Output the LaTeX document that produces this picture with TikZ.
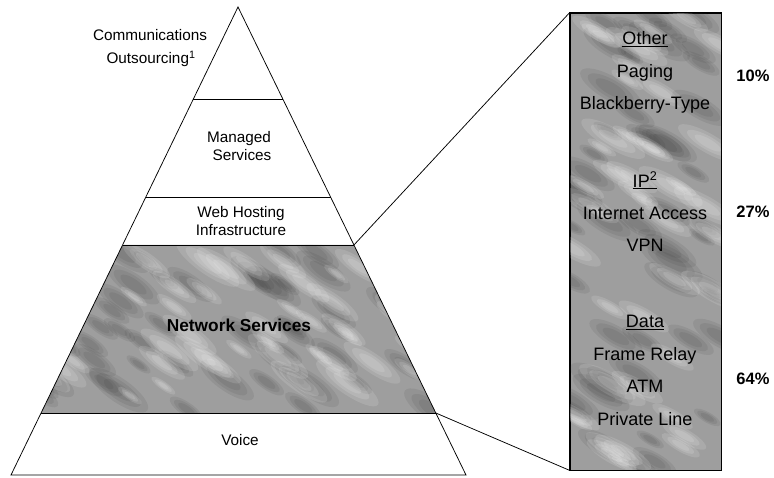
\documentclass[tikz,border=0pt]{standalone}
\usepackage{fontspec}
\setmainfont{Liberation Sans}
\usetikzlibrary{calc}
\begin{document}
\begin{tikzpicture}[x=1pt,y=-1pt,
  lbl/.style={inner sep=0pt, text height=11pt, text depth=0pt, font=\fontsize{15.3}{18}\selectfont},
  blbl/.style={inner sep=0pt, text height=12.5pt, text depth=0pt, font=\fontsize{18}{21}\selectfont},
  boldlbl/.style={inner sep=0pt, text height=12pt, text depth=0pt, font=\fontsize{17.3}{20}\selectfont\bfseries},
  pctlbl/.style={inner sep=0pt, text height=11.5pt, text depth=0pt, font=\fontsize{16.5}{20}\selectfont\bfseries},
  edge/.style={draw=black, line width=0.75pt},
  marble/.style={fill=black!38},
  blobdark/.style={fill=black!80, opacity=0.10},
  bloblight/.style={fill=white, opacity=0.13}]
\useasboundingbox (0,0) rectangle (774,477);
% pyramid frame
\coordinate (apex) at (238,7);
\coordinate (bl) at (11,475);
\coordinate (br) at (466,475);
\coordinate (l1) at ($(apex)!0.1966!(bl)$);
\coordinate (r1) at ($(apex)!0.1966!(br)$);
\coordinate (l2) at ($(apex)!0.4060!(bl)$);
\coordinate (r2) at ($(apex)!0.4060!(br)$);
\coordinate (l3) at ($(apex)!0.5085!(bl)$);
\coordinate (r3) at ($(apex)!0.5085!(br)$);
\coordinate (l4) at ($(apex)!0.8675!(bl)$);
\coordinate (r4) at ($(apex)!0.8675!(br)$);
% textured band: Network Services
\fill[marble] (l3) -- (r3) -- (r4) -- (l4) -- cycle;
\begin{scope}
  \clip (l3) -- (r3) -- (r4) -- (l4) -- cycle;
  \pgfmathsetseed{11}
  \foreach \i in {1,...,55}{
    \pgfmathsetmacro\px{40+rnd*400}
    \pgfmathsetmacro\py{245+rnd*170}
    \pgfmathsetmacro\rr{14+rnd*22}
    \foreach \s in {1,0.75,0.5}{
      \fill[blobdark, rotate around={-35:(\px,\py)}] (\px,\py) ellipse [x radius=\s*\rr, y radius=0.34*\s*\rr];
    }
  }
  \foreach \i in {1,...,45}{
    \pgfmathsetmacro\px{40+rnd*400}
    \pgfmathsetmacro\py{245+rnd*170}
    \pgfmathsetmacro\rr{14+rnd*24}
    \foreach \s in {1,0.7,0.45}{
      \fill[bloblight, rotate around={-35:(\px,\py)}] (\px,\py) ellipse [x radius=\s*\rr, y radius=0.28*\s*\rr];
    }
  }
\end{scope}
% textured box
\node[draw=black, line width=0.75pt, marble, minimum width=151pt, minimum height=457pt, inner sep=0pt] (box) at (645.5,241.5) {};
\begin{scope}
  \clip (box.north west) rectangle (box.south east);
  \pgfmathsetseed{23}
  \foreach \i in {1,...,50}{
    \pgfmathsetmacro\px{570+rnd*151}
    \pgfmathsetmacro\py{13+rnd*457}
    \pgfmathsetmacro\rr{14+rnd*22}
    \foreach \s in {1,0.75,0.5}{
      \fill[blobdark, rotate around={-30:(\px,\py)}] (\px,\py) ellipse [x radius=\s*\rr, y radius=0.34*\s*\rr];
    }
  }
  \foreach \i in {1,...,45}{
    \pgfmathsetmacro\px{570+rnd*151}
    \pgfmathsetmacro\py{13+rnd*457}
    \pgfmathsetmacro\rr{14+rnd*24}
    \foreach \s in {1,0.7,0.45}{
      \fill[bloblight, rotate around={-30:(\px,\py)}] (\px,\py) ellipse [x radius=\s*\rr, y radius=0.28*\s*\rr];
    }
  }
\end{scope}
\draw[edge] (box.north west) rectangle (box.south east);
% pyramid outlines
\draw[edge, line join=miter] (apex) -- (bl) -- (br) -- cycle;
\draw[edge] (l1) -- (r1);
\draw[edge] (l2) -- (r2);
\draw[edge] (l3) -- (r3);
\draw[edge] (l4) -- (r4);
% connectors to the box
\draw[edge] (r3) -- (box.north west);
\draw[edge] (r4) -- (box.south west);
% pyramid labels
\node[lbl] (co1) at (150,35) {Communications};
\node[lbl] (co2) at (151,58) {Outsourcing\textsuperscript{1}};
\node[lbl] (ms1) at (239,137) {Managed};
\node[lbl] (ms2) at (242,155) {Services};
\node[lbl] (wh1) at (241,212) {Web Hosting};
\node[lbl] (wh2) at (241,230) {Infrastructure};
\node[boldlbl] (ns) at (239,325) {Network Services};
\node[lbl] (vo) at (240,440) {Voice};
% box labels
\node[blbl] (ot) at (645,38.5) {\underline{Other}};
\node[blbl] (pg) at (645,71) {Paging};
\node[blbl] (bb) at (645,103) {Blackberry-Type};
\node[blbl] (ip) at (645,181) {\underline{IP\textsuperscript{2}}};
\node[blbl] (ia) at (645,213) {Internet Access};
\node[blbl] (vp) at (645,245) {VPN};
\node[blbl] (da) at (645,321) {\underline{Data}};
\node[blbl] (fr) at (645,354) {Frame Relay};
\node[blbl] (at) at (645,386) {ATM};
\node[blbl] (pl) at (645,419) {Private Line};
% percentages
\node[pctlbl] (p1) at (753,76) {10\%};
\node[pctlbl] (p2) at (753,212) {27\%};
\node[pctlbl] (p3) at (753,379) {64\%};
\end{tikzpicture}
\end{document}
